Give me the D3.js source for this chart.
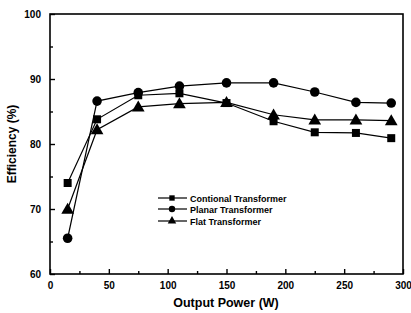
<!DOCTYPE html>
<html><head><meta charset="utf-8">
<script src="https://cdn.jsdelivr.net/npm/d3@7"></script>
<style>body{margin:0;background:#fff}svg{display:block}text{font-family:"Liberation Sans",Arial,sans-serif;font-weight:bold;fill:#000}</style>
</head><body>
<svg id="c" width="411" height="313"></svg>
<script>
const power = [15, 40, 75, 110, 150, 190, 225, 260, 290];
const conventional = [74.0, 83.8, 87.5, 87.8, 86.3, 83.5, 81.8, 81.7, 80.9];
const planar = [65.5, 86.6, 87.9, 88.9, 89.4, 89.4, 88.0, 86.4, 86.3];
const flat = [70.0, 82.2, 85.7, 86.2, 86.4, 84.5, 83.7, 83.7, 83.6];
const seriesNames = ["Contional Transformer", "Planar Transformer", "Flat Transformer"];
const xTicks = [0, 50, 100, 150, 200, 250, 300];
const yTicks = [60, 70, 80, 90, 100];

const svg = d3.select("#c");
const x = d3.scaleLinear().domain([0, 300]).range([50, 403]);
const y = d3.scaleLinear().domain([60, 100]).range([274, 14]);

svg.append("rect").attr("x", 50).attr("y", 14).attr("width", 353).attr("height", 260)
  .attr("fill", "none").attr("stroke", "#000").attr("stroke-width", 1.6);

svg.append("g").attr("transform", "translate(0,274)")
  .call(d3.axisBottom(x).tickValues(xTicks).tickSize(-5).tickPadding(8).tickFormat(d3.format("d")));
svg.append("g").attr("transform", "translate(0,274)")
  .call(d3.axisBottom(x).tickValues(d3.range(25, 300, 50)).tickSize(-3).tickFormat(""));
svg.append("g").attr("transform", "translate(50,0)")
  .call(d3.axisLeft(y).tickValues(yTicks).tickSize(-5).tickPadding(9).tickFormat(d3.format("d")));
svg.append("g").attr("transform", "translate(50,0)")
  .call(d3.axisLeft(y).tickValues(d3.range(65, 100, 10)).tickSize(-3).tickFormat(""));
svg.selectAll(".domain").remove();
svg.selectAll(".tick line").attr("stroke", "#000").attr("stroke-width", 1.4);
svg.selectAll(".tick text").style("font-size", "10px").style("font-weight", "bold")
  .style("font-family", "'Liberation Sans',Arial,sans-serif");

svg.append("text").attr("x", 226).attr("y", 307).attr("text-anchor", "middle")
  .style("font-size", "12.5px").text("Output Power (W)");
svg.append("text").attr("transform", "translate(16,144) rotate(-90)").attr("text-anchor", "middle")
  .style("font-size", "12px").text("Efficiency (%)");

const line = d3.line().x((d, i) => x(power[i])).y(d => y(d));
const datasets = [conventional, planar, flat];
const markers = [d3.symbolSquare, d3.symbolCircle, d3.symbolTriangle];
const sizes = [64, 72, 70];

datasets.forEach((vals, k) => {
  svg.append("path").datum(vals).attr("d", line).attr("fill", "none")
    .attr("stroke", "#000").attr("stroke-width", 1.2);
  svg.selectAll(null).data(vals).enter().append("path")
    .attr("transform", (d, i) => `translate(${x(power[i])},${y(d) + (k === 2 ? 1 : 0)})`)
    .attr("d", d3.symbol().type(markers[k]).size(sizes[k])).attr("fill", "#000");
});

const ly = [198, 209, 221];
seriesNames.forEach((n, k) => {
  svg.append("line").attr("x1", 158).attr("x2", 187).attr("y1", ly[k]).attr("y2", ly[k])
    .attr("stroke", "#000").attr("stroke-width", 1.2);
  svg.append("path").attr("transform", `translate(172,${ly[k]})`)
    .attr("d", d3.symbol().type(markers[k]).size(sizes[k] * 0.45)).attr("fill", "#000");
  svg.append("text").attr("x", 190).attr("y", ly[k] + 3.5).style("font-size", "9px").text(n);
});
</script>
</body></html>
